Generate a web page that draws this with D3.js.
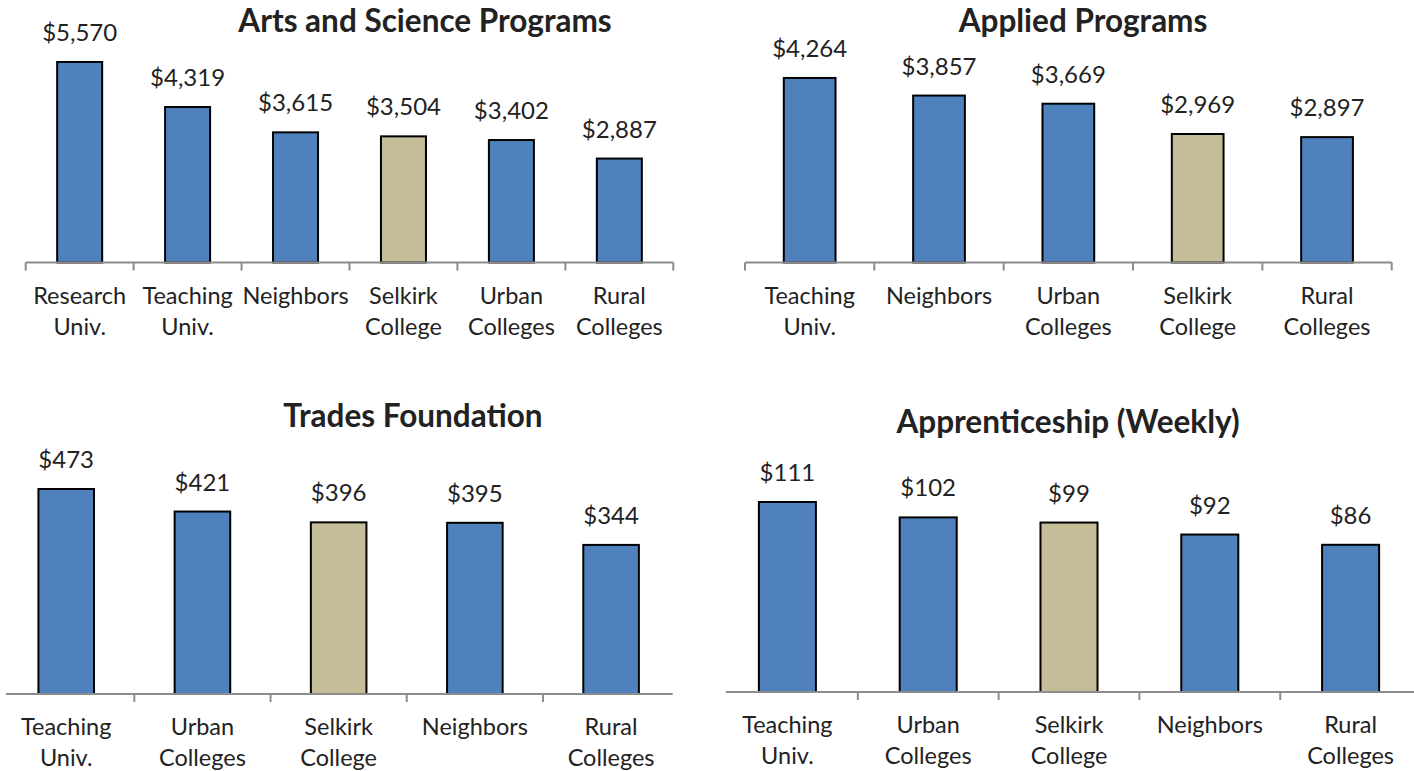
<!DOCTYPE html>
<html>
<head>
<meta charset="utf-8">
<script src="https://cdn.jsdelivr.net/npm/d3@7"></script>
<style>
  body { margin: 0; background: #fff; }
  svg text { font-family: Lato, "Open Sans", sans-serif; fill: #222; }
  .title { font-weight: bold; }
</style>
</head>
<body>
<div id="chart"></div>
<script>
// ---- data ----
const artsCategories = ["Research Univ.", "Teaching Univ.", "Neighbors", "Selkirk College", "Urban Colleges", "Rural Colleges"];
const artsValues = [5570, 4319, 3615, 3504, 3402, 2887];

const appliedCategories = ["Teaching Univ.", "Neighbors", "Urban Colleges", "Selkirk College", "Rural Colleges"];
const appliedValues = [4264, 3857, 3669, 2969, 2897];

const tradesCategories = ["Teaching Univ.", "Urban Colleges", "Selkirk College", "Neighbors", "Rural Colleges"];
const tradesValues = [473, 421, 396, 395, 344];

const apprenticeCategories = ["Teaching Univ.", "Urban Colleges", "Selkirk College", "Neighbors", "Rural Colleges"];
const apprenticeValues = [111, 102, 99, 92, 86];

const highlight = "Selkirk College";

// ---- layout of the four panels ----
const panels = [
    { title: "Arts and Science Programs", cats: artsCategories, vals: artsValues,
      x0: 25.7, x1: 673.3, line: [25.7, 673.3], base: 262.5, yMax: 6000, h: 216, bw: 0.417,
      titleX: 425, titleY: 32, outerTicks: true },
    { title: "Applied Programs", cats: appliedCategories, vals: appliedValues,
      x0: 745, x1: 1391.7, line: [745, 1391.7], base: 262.5, yMax: 5000, h: 216.4, bw: 0.4,
      titleX: 1083, titleY: 32, outerTicks: true },
    { title: "Trades Foundation", cats: tradesCategories, vals: tradesValues,
      x0: -1.9, x1: 679.2, line: [6, 672.7], base: 694, yMax: 500, h: 216.7, bw: 0.408,
      titleX: 413, titleY: 427, outerTicks: false },
    { title: "Apprenticeship (Weekly)", cats: apprenticeCategories, vals: apprenticeValues,
      x0: 717, x1: 1421, line: [726, 1414], base: 692, yMax: 120, h: 205.4, bw: 0.405,
      titleX: 1068, titleY: 433, outerTicks: false }
];

const svg = d3.select("#chart")
    .append("svg")
    .attr("width", 1414)
    .attr("height", 771);

const fmt = d3.format(",");

panels.forEach(p => {
    const g = svg.append("g");

    const x = d3.scaleBand()
        .domain(p.cats)
        .range([p.x0, p.x1])
        .padding(0);

    const y = d3.scaleLinear()
        .domain([0, p.yMax])
        .range([p.base, p.base - p.h]);

    const data = p.cats.map((c, i) => ({ cat: c, value: p.vals[i] }));
    const barW = x.step() * p.bw;

    // bars
    g.selectAll("rect.bar")
        .data(data)
        .join("rect")
        .attr("class", "bar")
        .attr("x", d => x(d.cat) + (x.step() - barW) / 2)
        .attr("y", d => y(d.value))
        .attr("width", barW)
        .attr("height", d => y(0) - y(d.value))
        .attr("fill", d => d.cat === highlight ? "#C4BD97" : "#4F81BD")
        .attr("stroke", "#000")
        .attr("stroke-width", 2);

    // value labels
    g.selectAll("text.val")
        .data(data)
        .join("text")
        .attr("class", "val")
        .attr("x", d => x(d.cat) + x.step() / 2)
        .attr("y", d => y(d.value) - 21)
        .attr("text-anchor", "middle")
        .style("font-size", "24px")
        .text(d => "$" + fmt(d.value));

    // axis line
    g.append("line")
        .attr("x1", p.line[0])
        .attr("x2", p.line[1])
        .attr("y1", p.base)
        .attr("y2", p.base)
        .attr("stroke", "#8c8c8c")
        .attr("stroke-width", 2.2);

    // separator ticks at category boundaries
    const bounds = p.cats.map(c => x(c)).concat([x.range()[1]])
        .filter((b, i, arr) => p.outerTicks || (i > 0 && i < arr.length - 1));
    g.selectAll("line.tick")
        .data(bounds)
        .join("line")
        .attr("class", "tick")
        .attr("x1", d => d)
        .attr("x2", d => d)
        .attr("y1", p.base)
        .attr("y2", p.base + 8)
        .attr("stroke", "#8c8c8c")
        .attr("stroke-width", 2);

    // category labels, wrapped on the first space
    const lbl = g.selectAll("text.cat")
        .data(p.cats)
        .join("text")
        .attr("class", "cat")
        .attr("text-anchor", "middle")
        .style("font-size", "23.5px");
    lbl.each(function (c) {
        const t = d3.select(this);
        const k = c.indexOf(" ");
        const lines = k < 0 ? [c] : [c.slice(0, k), c.slice(k + 1)];
        lines.forEach((s, i) => {
            t.append("tspan")
                .attr("x", x(c) + x.step() / 2)
                .attr("y", p.base + 41 + i * 31)
                .text(s);
        });
    });

    // title
    g.append("text")
        .attr("class", "title")
        .attr("x", p.titleX)
        .attr("y", p.titleY)
        .attr("text-anchor", "middle")
        .style("font-size", "31.5px")
        .text(p.title);
});
</script>
</body>
</html>
